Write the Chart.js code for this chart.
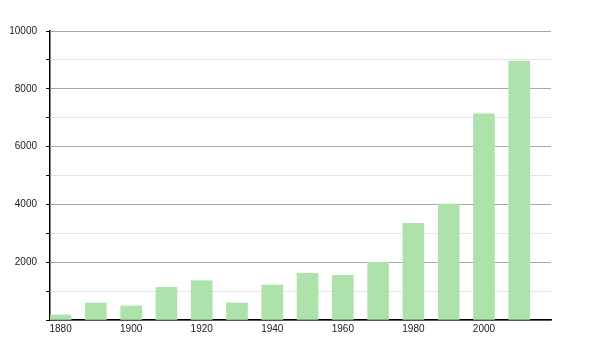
<!DOCTYPE html>
<html>
<head>
<meta charset="utf-8">
<script src="https://cdn.jsdelivr.net/npm/chart.js@4/dist/chart.umd.min.js"></script>
<style>
  html, body { margin: 0; padding: 0; background: #ffffff; }
  #wrap { width: 600px; height: 350px; position: relative; }
</style>
</head>
<body>
<div id="wrap"><canvas id="c" width="600" height="350"></canvas></div>
<script>
const years = [1880, 1890, 1900, 1910, 1920, 1930, 1940, 1950, 1960, 1970, 1980, 1990, 2000, 2010];
const population = [175, 590, 485, 1130, 1360, 590, 1210, 1615, 1545, 1995, 3345, 4015, 7130, 8960];
const xTickLabels = [1880, 1900, 1920, 1940, 1960, 1980, 2000];
const yMax = 10000;

const points = years.map((y, i) => ({ x: y, y: population[i] }));

new Chart(document.getElementById('c'), {
  type: 'bar',
  data: {
    datasets: [{
      data: points,
      backgroundColor: '#ade3ab',
      borderWidth: 0,
      barThickness: 21
    }]
  },
  options: {
    responsive: false,
    animation: false,
    devicePixelRatio: 1,
    layout: { padding: { left: 0, right: 49, top: 31, bottom: 0 } },
    plugins: { legend: { display: false }, tooltip: { enabled: false } },
    scales: {
      x: {
        type: 'linear',
        offset: false,
        min: 1877,
        max: 2019,
        afterBuildTicks: s => { s.ticks = xTickLabels.map(v => ({ value: v })); },
        afterFit: s => { s.height = 30; },
        grid: { display: false, drawTicks: false, offset: false },
        border: { display: true, color: '#000000', width: 1.5 },
        ticks: {
          color: '#222222',
          font: { family: 'Liberation Sans, Arial, sans-serif', size: 10 },
          padding: 3,
          maxRotation: 0,
          callback: v => String(v)
        }
      },
      y: {
        min: 0,
        max: yMax,
        afterFit: s => { s.width = 50; },
        border: { display: true, color: '#000000', width: 1.5 },
        grid: {
          color: ctx => (ctx.tick && ctx.tick.value % 2000 === 0) ? '#a9a9a9' : '#e6e6e6',
          tickColor: '#000000',
          tickLength: 4,
          drawOnChartArea: true
        },
        ticks: {
          stepSize: 1000,
          color: '#222222',
          font: { family: 'Liberation Sans, Arial, sans-serif', size: 10 },
          padding: 9,
          callback: v => (v % 2000 === 0 && v > 0) ? String(v) : ''
        }
      }
    }
  }
});
</script>
</body>
</html>
